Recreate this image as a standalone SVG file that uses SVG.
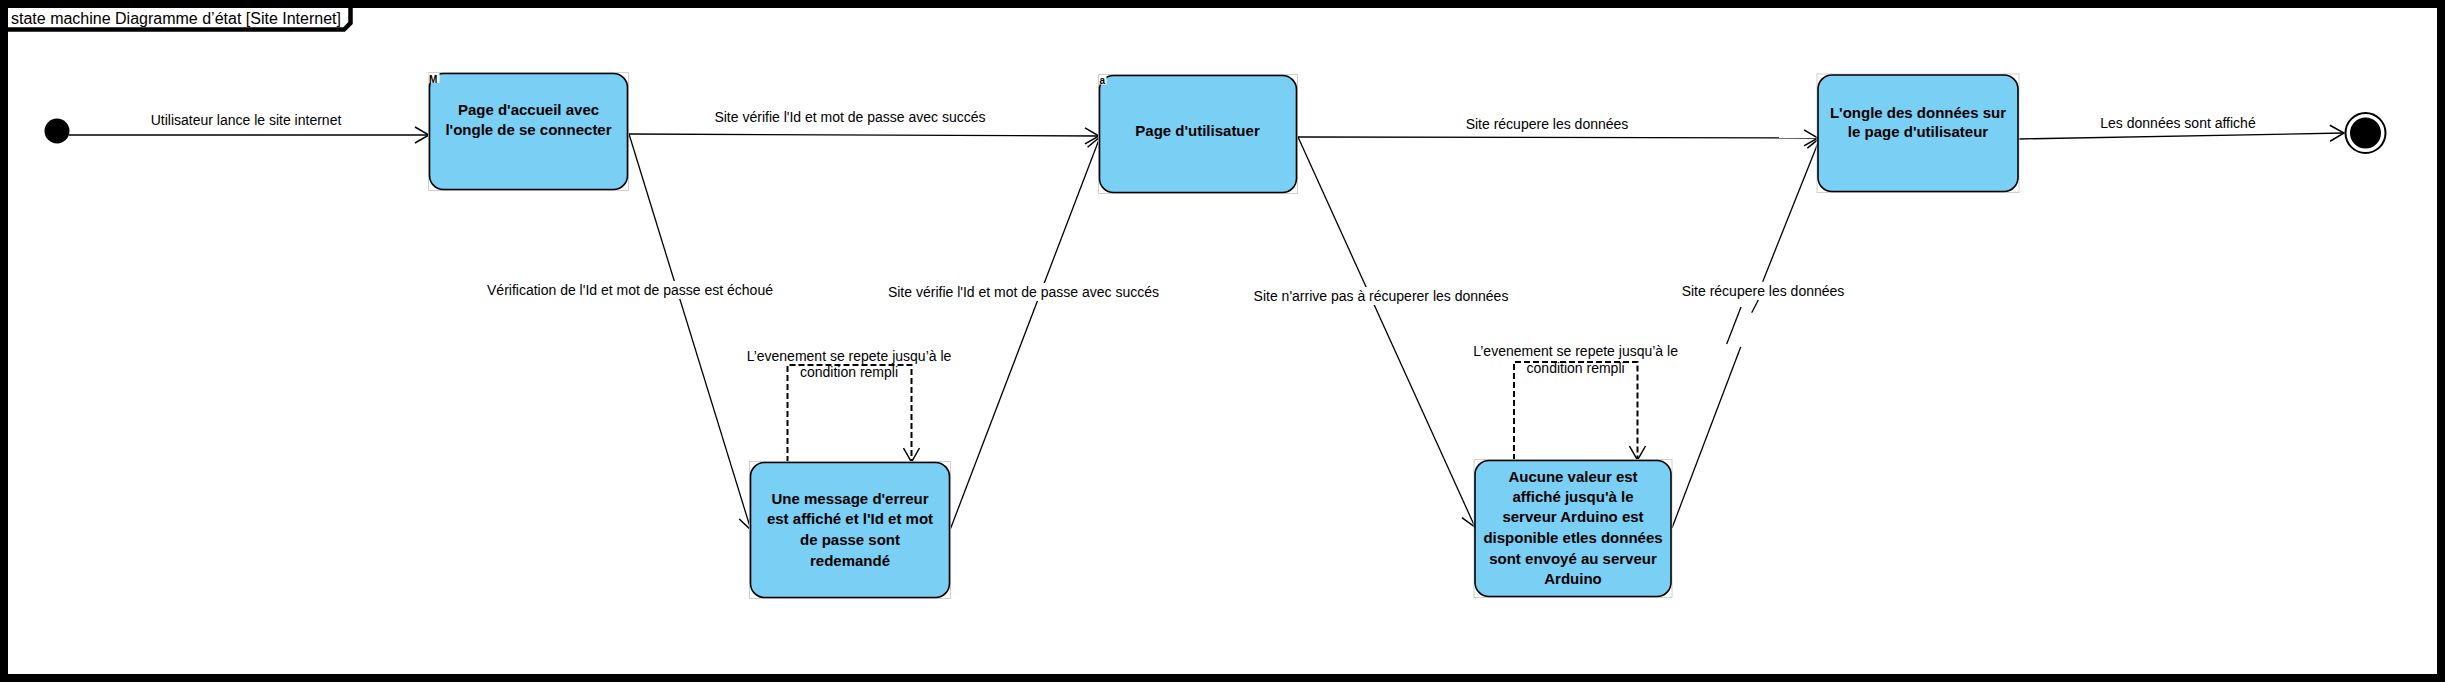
<svg xmlns="http://www.w3.org/2000/svg" width="2445" height="682" viewBox="0 0 2445 682">
<style>
.frame{fill:#fff;stroke:#000;stroke-width:8}
.tab{fill:none;stroke:#000;stroke-width:4.5}
.title{font-family:"Liberation Sans",Arial,sans-serif;font-size:16px;fill:#000}
.node{fill:#7acff5;stroke:#000;stroke-width:1.6}
.bound{fill:none;stroke:#cfcfcf;stroke-width:1}
.nt{font-family:"Liberation Sans",Arial,sans-serif;font-size:15px;font-weight:bold;fill:#000;text-anchor:middle}
.lbl{font-family:"Liberation Sans",Arial,sans-serif;font-size:14px;fill:#000;text-anchor:middle}
.edge{fill:none;stroke:#000;stroke-width:1.3}
.loop{fill:none;stroke:#000;stroke-width:2;stroke-dasharray:6 3}
.bg{fill:#fff}
.ico{font-family:"Liberation Sans",Arial,sans-serif;font-size:10px;font-weight:bold;fill:#000}
</style>
<defs>
<marker id="arr" markerUnits="userSpaceOnUse" markerWidth="16" markerHeight="18" viewBox="0 0 16 18" refX="15" refY="9" orient="auto">
<path d="M1,1 L15,9 L1,17" fill="none" stroke="#000" stroke-width="1.5"/>
</marker>
</defs>
<rect class="frame" x="4" y="4" width="2437" height="674"/>
<g id="title">
<text class="title" x="11" y="24">state machine Diagramme d’état [Site Internet]</text>
<path class="tab" d="M8,29.5 L344,29.5 L350.5,23 L350.5,8"/>
</g>
<g id="connectors">
<line class="edge" x1="69" y1="135" x2="429" y2="135" marker-end="url(#arr)"/>
<line class="edge" x1="629" y1="134" x2="1099" y2="136" marker-end="url(#arr)"/>
<line class="edge" x1="629" y1="134" x2="751" y2="530" marker-end="url(#arr)"/>
<line class="edge" x1="950" y1="530" x2="1100" y2="137" marker-end="url(#arr)"/>
<line class="edge" x1="1298" y1="137" x2="1818" y2="138" marker-end="url(#arr)"/>
<line class="edge" x1="1298" y1="137" x2="1475" y2="527" marker-end="url(#arr)"/>
<line class="edge" x1="1672" y1="528" x2="1740.7" y2="347"/>
<line class="edge" x1="1751.7" y1="312.7" x2="1758.3" y2="300"/>
<line class="edge" x1="1741" y1="307" x2="1726.7" y2="344"/>
<line class="edge" x1="1762.7" y1="281.7" x2="1820" y2="138" marker-end="url(#arr)"/>
<line class="edge" x1="2019" y1="139" x2="2344" y2="133" marker-end="url(#arr)"/>
<path class="loop" d="M787.5,462 V365 H911.5 V462" marker-end="url(#arr)"/>
<path class="loop" d="M1514,460 V362 H1637.5 V460" marker-end="url(#arr)"/>
</g>
<g id="labels">
<text class="lbl" x="246" y="125">Utilisateur lance le site internet</text>
<text class="lbl" x="850" y="122">Site vérifie l'Id et mot de passe avec succés</text>
<text class="lbl" x="1547" y="129">Site récupere les données</text>
<text class="lbl" x="2178" y="128">Les données sont affiché</text>
<rect class="bg" x="484" y="281" width="292" height="18"/>
<text class="lbl" x="630" y="295">Vérification de l'Id et mot de passe est échoué</text>
<rect class="bg" x="885" y="283" width="277" height="18"/>
<text class="lbl" x="1023.5" y="297">Site vérifie l'Id et mot de passe avec succés</text>
<rect class="bg" x="1250" y="287" width="262" height="18"/>
<text class="lbl" x="1381" y="301">Site n'arrive pas à récuperer les données</text>
<text class="lbl" x="1763" y="296">Site récupere les données</text>
<text class="lbl" x="849" y="361">L’evenement se repete jusqu’à le</text>
<text class="lbl" x="849" y="377">condition rempli</text>
<text class="lbl" x="1575.6" y="356">L’evenement se repete jusqu’à le</text>
<text class="lbl" x="1575.6" y="373">condition rempli</text>
</g>
<g id="initial">
<circle cx="57" cy="131" r="12.5" fill="#000"/>
</g>
<g id="n-accueil">
<rect class="bound" x="428.5" y="72.5" width="200" height="118"/>
<rect class="node" x="429.5" y="73.5" width="198" height="116" rx="14"/>
<rect x="428.5" y="73" width="11" height="10" fill="#fff"/>
<text class="ico" x="429" y="82.5">M</text>
<text class="nt" x="528.5" y="115">Page d'accueil avec</text>
<text class="nt" x="528.5" y="135">l'ongle de se connecter</text>
</g>
<g id="n-utilisateur">
<rect class="bound" x="1098.5" y="74.5" width="199" height="119"/>
<rect class="node" x="1099.5" y="75.5" width="197" height="117" rx="14"/>
<rect x="1099.5" y="76.5" width="7" height="8" fill="#fff"/>
<text class="ico" x="1099.5" y="84" font-size="10">a</text>
<text class="nt" x="1197.5" y="136">Page d'utilisatuer</text>
</g>
<g id="n-donnees">
<rect class="bound" x="1817" y="74" width="202" height="118.5"/>
<rect class="node" x="1818" y="75" width="200" height="116.5" rx="14"/>
<text class="nt" x="1918" y="118">L'ongle des données sur</text>
<text class="nt" x="1918" y="137">le page d'utilisateur</text>
</g>
<g id="n-erreur">
<rect class="bound" x="749.5" y="461.5" width="201" height="137"/>
<rect class="node" x="750.5" y="462.5" width="199" height="135" rx="14"/>
<text class="nt" x="850" y="504">Une message d'erreur</text>
<text class="nt" x="850" y="524">est affiché et l'Id et mot</text>
<text class="nt" x="850" y="545">de passe sont</text>
<text class="nt" x="850" y="566">redemandé</text>
</g>
<g id="n-aucune">
<rect class="bound" x="1474" y="459.5" width="198" height="138"/>
<rect class="node" x="1475" y="460.5" width="196" height="136" rx="14"/>
<text class="nt" x="1573" y="482">Aucune valeur est</text>
<text class="nt" x="1573" y="502">affiché jusqu'à le</text>
<text class="nt" x="1573" y="522">serveur Arduino est</text>
<text class="nt" x="1573" y="543">disponible etles données</text>
<text class="nt" x="1573" y="564">sont envoyé au serveur</text>
<text class="nt" x="1573" y="584">Arduino</text>
</g>
<g id="final">
<circle cx="2365.5" cy="133" r="20" fill="#fff" stroke="#000" stroke-width="2"/>
<circle cx="2365.5" cy="133" r="15.5" fill="#000"/>
</g>
</svg>
